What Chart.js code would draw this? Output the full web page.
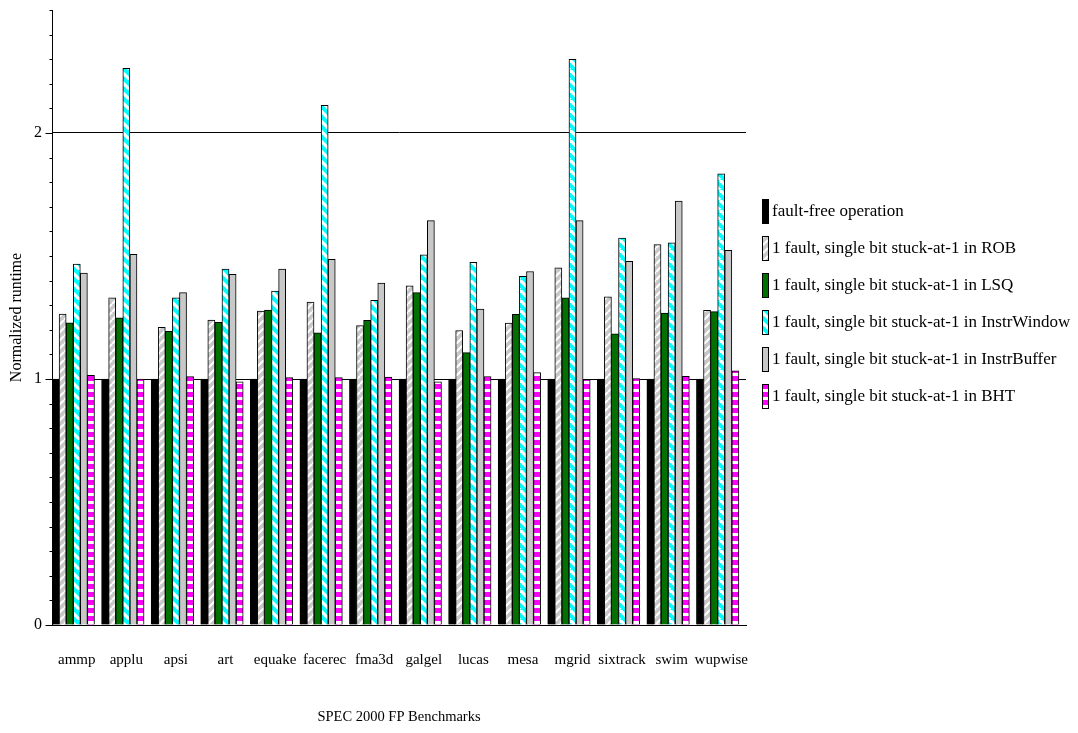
<!DOCTYPE html>
<html>
<head>
<meta charset="utf-8">
<script src="https://cdn.jsdelivr.net/npm/chart.js@4/dist/chart.umd.min.js"></script>
<style>
  html, body { margin: 0; background: #fff; }
  canvas { display: block; }
</style>
</head>
<body>
<canvas id="chart" width="1078" height="733"></canvas>
<script>
// SPEC 2000 FP benchmarks
const benchmarks = ['ammp', 'applu', 'apsi', 'art', 'equake', 'facerec', 'fma3d',
  'galgel', 'lucas', 'mesa', 'mgrid', 'sixtrack', 'swim', 'wupwise'];

// Normalized runtime per configuration
const faultFree   = [1.0, 1.0, 1.0, 1.0, 1.0, 1.0, 1.0, 1.0, 1.0, 1.0, 1.0, 1.0, 1.0, 1.0];
const robFault    = [1.264, 1.330, 1.210, 1.240, 1.276, 1.313, 1.217, 1.379, 1.197, 1.227, 1.452, 1.334, 1.546, 1.279];
const lsqFault    = [1.228, 1.249, 1.194, 1.230, 1.280, 1.188, 1.238, 1.351, 1.107, 1.263, 1.330, 1.184, 1.268, 1.274];
const windowFault = [1.467, 2.263, 1.330, 1.447, 1.357, 2.112, 1.320, 1.505, 1.474, 1.417, 2.299, 1.573, 1.554, 1.834];
const bufferFault = [1.431, 1.507, 1.351, 1.425, 1.447, 1.486, 1.390, 1.644, 1.284, 1.437, 1.644, 1.478, 1.723, 1.523];
const bhtFault    = [1.015, 1.000, 1.010, 0.988, 1.006, 1.006, 1.008, 0.988, 1.010, 1.026, 0.998, 1.002, 1.011, 1.033];

const seriesLabels = [
  'fault-free operation',
  '1 fault, single bit stuck-at-1 in ROB',
  '1 fault, single bit stuck-at-1 in LSQ',
  '1 fault, single bit stuck-at-1 in InstrWindow',
  '1 fault, single bit stuck-at-1 in InstrBuffer',
  '1 fault, single bit stuck-at-1 in BHT'
];

const yTickLabels = [0, 1, 2];

const SERIF = '"Liberation Serif", "Times New Roman", Times, serif';

// Fill patterns
function diagonalPattern(base, stripe, width, size, rising) {
  const s = size;
  const c = document.createElement('canvas');
  c.width = s; c.height = s;
  const g = c.getContext('2d');
  g.fillStyle = base;
  g.fillRect(0, 0, s, s);
  g.strokeStyle = stripe;
  g.lineWidth = width;
  for (let k = -1; k <= 1; k++) {
    g.beginPath();
    if (rising) {
      g.moveTo(k * s, s);
      g.lineTo(k * s + s, 0);
    } else {
      g.moveTo(k * s, 0);
      g.lineTo(k * s + s, s);
    }
    g.stroke();
  }
  return g.createPattern(c, 'repeat');
}

function bandPattern(base, stripe) {
  const c = document.createElement('canvas');
  c.width = 8; c.height = 8;
  const g = c.getContext('2d');
  g.fillStyle = stripe;
  g.fillRect(0, 0, 8, 8);
  g.fillStyle = base;
  g.fillRect(0, 0, 8, 5);
  return g.createPattern(c, 'repeat');
}

const robFill = diagonalPattern('#c8c8c8', '#ffffff', 2, 8, true);
const windowFill = diagonalPattern('#00ffff', '#ffffff', 3.2, 10, false);
const bhtFill = bandPattern('#ff00ff', '#ffffff');

const fills = ['#000000', robFill, '#007000', windowFill, '#c8c8c8', bhtFill];
const values = [faultFree, robFault, lsqFault, windowFault, bufferFault, bhtFault];

const datasets = values.map((data, i) => ({
  label: seriesLabels[i],
  data: data,
  backgroundColor: fills[i],
  borderColor: '#000000',
  borderWidth: 1,
  borderSkipped: 'bottom'
}));
// empty slot that leaves the gap after each group of bars
datasets.push({ label: '', data: benchmarks.map(() => null) });

const isWhole = v => Math.abs(v - Math.round(v)) < 1e-6;

// Tick marks on the left of the value axis: long at whole numbers, short between
const yTickMarks = {
  id: 'yTickMarks',
  afterDraw(chart) {
    const s = chart.scales.y;
    const ctx = chart.ctx;
    const x = Math.round(s.right) + 0.5;
    ctx.save();
    ctx.strokeStyle = '#000';
    ctx.lineWidth = 1;
    s.ticks.forEach(t => {
      const y = Math.round(s.getPixelForValue(t.value)) + 0.5;
      const len = isWhole(t.value) ? 7 : 3;
      ctx.beginPath();
      ctx.moveTo(x - len, y);
      ctx.lineTo(x, y);
      ctx.stroke();
    });
    ctx.restore();
  }
};

// Legend to the right of the plot
const sideLegend = {
  id: 'sideLegend',
  afterDraw(chart) {
    const ctx = chart.ctx;
    const x0 = chart.chartArea.right + 16;
    const firstY = 211;
    const step = 37;
    ctx.save();
    ctx.font = '17px ' + SERIF;
    ctx.textBaseline = 'middle';
    ctx.textAlign = 'left';
    let row = 0;
    chart.data.datasets.forEach(ds => {
      if (!ds.label) return;
      const cy = firstY + row * step;
      ctx.fillStyle = ds.backgroundColor;
      ctx.fillRect(x0, cy - 12, 6, 25);
      ctx.strokeStyle = '#000';
      ctx.lineWidth = 1;
      ctx.strokeRect(x0 + 0.5, cy - 11.5, 6, 24);
      ctx.fillStyle = '#000';
      ctx.fillText(ds.label, x0 + 10, cy + 1);
      row++;
    });
    ctx.restore();
  }
};

new Chart(document.getElementById('chart'), {
  type: 'bar',
  data: { labels: benchmarks, datasets: datasets },
  plugins: [yTickMarks, sideLegend],
  options: {
    responsive: false,
    devicePixelRatio: 1,
    animation: false,
    events: [],
    layout: { padding: { top: 10, right: 332, left: 0, bottom: 0 } },
    plugins: {
      legend: { display: false },
      tooltip: { enabled: false }
    },
    datasets: {
      bar: { categoryPercentage: 1.0, barPercentage: 1.0 }
    },
    scales: {
      x: {
        afterFit(scale) { scale.height = 108; },
        grid: { display: false, drawTicks: false },
        border: { display: true, color: '#000', width: 1 },
        ticks: {
          color: '#000',
          font: { family: SERIF, size: 15 },
          padding: 26,
          maxRotation: 0,
          autoSkip: false
        },
        title: {
          display: true,
          text: 'SPEC 2000 FP Benchmarks',
          color: '#000',
          font: { family: SERIF, size: 14.5 },
          padding: { top: 0, bottom: 7 }
        }
      },
      y: {
        min: 0,
        max: 2.5,
        afterFit(scale) {
          scale.width = 52;
          scale.paddingTop = 0;
          scale.paddingBottom = 0;
        },
        grid: {
          drawTicks: false,
          color: ctx => (ctx.tick && isWhole(ctx.tick.value) && ctx.tick.value > 0) ? '#000' : 'rgba(0,0,0,0)',
          lineWidth: 1
        },
        border: { display: true, color: '#000', width: 1 },
        ticks: {
          stepSize: 0.1,
          color: '#000',
          font: { family: SERIF, size: 16 },
          padding: 10,
          callback: v => {
            const hit = yTickLabels.find(t => Math.abs(t - v) < 1e-6);
            return hit === undefined ? '' : String(hit);
          }
        },
        title: {
          display: true,
          text: 'Normalized runtime',
          color: '#000',
          font: { family: SERIF, size: 16 },
          padding: { top: 7, bottom: 0 }
        }
      }
    }
  }
});
</script>
</body>
</html>
